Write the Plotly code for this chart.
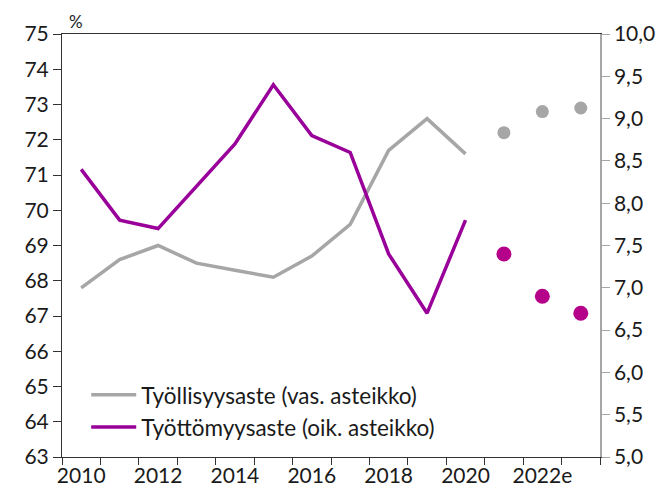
import plotly.graph_objects as go

years = ["2010","2011","2012","2013","2014","2015","2016","2017","2018","2019","2020","2021","2022e","2023e"]
tick_labels = ["2010","2012","2014","2016","2018","2020","2022e"]
employment_hist = [67.8, 68.6, 69.0, 68.5, 68.3, 68.1, 68.7, 69.6, 71.7, 72.6, 71.6]
employment_fcst = [72.2, 72.8, 72.9]
unemployment_hist = [8.4, 7.8, 7.7, 8.2, 8.7, 9.4, 8.8, 8.6, 7.4, 6.7, 7.8]
unemployment_fcst = [7.4, 6.9, 6.7]

n_hist = len(employment_hist)
x_hist = list(range(n_hist))
x_fcst = list(range(n_hist, len(years)))

GRAY = "#a6a6a6"
PURPLE = "#990099"
MAGENTA = "#b5008a"
AXIS = "#333333"
FONT = "Lato"

fig = go.Figure()
fig.add_trace(go.Scatter(x=x_hist, y=employment_hist, mode="lines", name="Työllisyysaste (vas. asteikko)",
                         line=dict(color=GRAY, width=3.5), legendgroup="a"))
fig.add_trace(go.Scatter(x=x_hist, y=unemployment_hist, mode="lines", name="Työttömyysaste (oik. asteikko)",
                         line=dict(color=PURPLE, width=3.5), yaxis="y2", legendgroup="b"))
fig.add_trace(go.Scatter(x=x_fcst, y=employment_fcst, mode="markers", showlegend=False,
                         marker=dict(color=GRAY, size=13)))
fig.add_trace(go.Scatter(x=x_fcst, y=unemployment_fcst, mode="markers", showlegend=False,
                         marker=dict(color=MAGENTA, size=15), yaxis="y2"))

fig.update_layout(
    width=663, height=487,
    margin=dict(l=54, r=71, t=26, b=38),
    plot_bgcolor="white", paper_bgcolor="white",
    font=dict(family=FONT, size=21, color="#1a1a1a"),
    separators=",.",
    showlegend=True,
    legend=dict(x=0.045, y=0.197, xanchor="left", yanchor="top", bgcolor="rgba(0,0,0,0)",
                font=dict(size=22.5, color="#1a1a1a"), tracegroupgap=0, itemwidth=45),
    xaxis=dict(range=[-0.5, len(years) - 0.5], tickvals=list(range(0, len(years), 2)), ticktext=tick_labels,
               showline=True, linecolor=AXIS, linewidth=1, mirror=True, showgrid=False, zeroline=False,
               ticks="outside", ticklen=0, tickcolor=AXIS, automargin=False,
               minor=dict(tickvals=[i - 0.5 for i in range(len(years) + 1)], ticks="outside", ticklen=7,
                          tickcolor=AXIS, showgrid=False)),
    yaxis=dict(range=[63, 75], dtick=1, showline=True, linecolor=AXIS, linewidth=1, showgrid=False,
               zeroline=False, ticks="outside", ticklen=8, tickcolor=AXIS, automargin=False),
    yaxis2=dict(range=[5, 10], dtick=0.5, tickformat=".1f", overlaying="y", side="right", showline=True,
                linecolor=GRAY, linewidth=1.5, showgrid=False, zeroline=False, ticks="outside", ticklen=8,
                tickcolor=GRAY, automargin=False),
    annotations=[dict(text="%", xref="paper", yref="paper", x=0.01, y=1.0, xanchor="left", yanchor="bottom",
                      showarrow=False, font=dict(size=17))],
)

fig.write_html("out.html")
